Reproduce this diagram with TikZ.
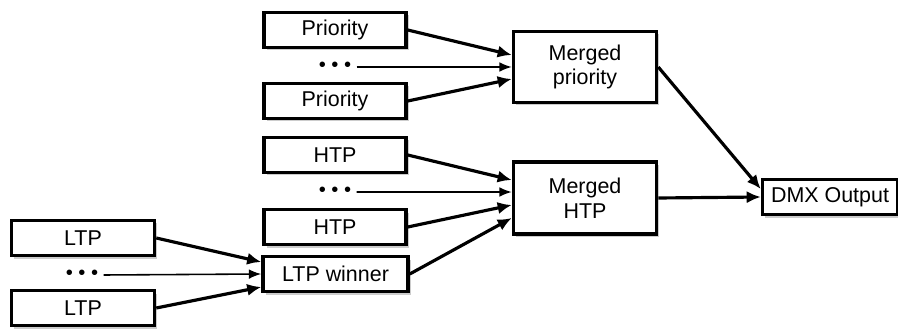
\documentclass[tikz,border=0pt]{standalone}
\usepackage{fontspec}
\setmainfont{Liberation Sans}
\usetikzlibrary{shadows, arrows.meta}
\begin{document}
\begin{tikzpicture}[feed/.style={-{Latex[length=8pt, width=7pt]}, line width=1.8pt}, fine/.style={-{Latex[length=7pt, width=5.5pt]}, line width=0.9pt}]
        \tikzset{bloc/.style={rectangle, draw=black, line width=2pt, fill=white, minimum height=0.7cm, minimum width=2.84cm, inner sep=0pt, align=center, font=\fontsize{12.2}{14}\selectfont, drop shadow={shadow xshift=0.05cm, shadow yshift=-0.06cm, opacity=0.4}}};
        \tikzset{points/.style={inner sep=0.1cm, font=\fontsize{11.5}{13}\selectfont}};
        \useasboundingbox (0, 0) rectangle (17.96, 6.58);

        \node[bloc, minimum width=2.86cm, minimum height=1.42cm] (mp) at (11.70, 5.24) {Merged\\priority};
        \node[bloc, minimum width=2.86cm, minimum height=1.44cm] (mh) at (11.70, 2.62) {Merged\\HTP};
        \node[bloc, minimum width=2.7cm] (dmx) at (16.60, 2.64) {DMX Output};

        \node[bloc] (pr1) at (6.70, 5.98) {Priority};
        \node[points] (pd) at (6.70, 5.24) {\textbullet\ \textbullet\ \textbullet};
        \node[bloc] (pr2) at (6.70, 4.56) {Priority};

        \node[bloc] (ht1) at (6.70, 3.48) {HTP};
        \node[points] (hd) at (6.70, 2.74) {\textbullet\ \textbullet\ \textbullet};
        \node[bloc] (ht2) at (6.70, 2.04) {HTP};
        \node[bloc, minimum width=2.9cm] (lw) at (6.71, 1.10) {LTP winner};

        \node[bloc, minimum width=2.86cm] (lt1) at (1.66, 1.82) {LTP};
        \node[points] (ld) at (1.64, 1.08) {\textbullet\ \textbullet\ \textbullet};
        \node[bloc, minimum width=2.86cm] (lt2) at (1.66, 0.42) {LTP};

        \draw[feed] (pr1.east) -- ([yshift=0.24cm]mp.west);
        \draw[fine] (pd.east) -- (mp.west);
        \draw[feed] (pr2.east) -- ([yshift=-0.24cm]mp.west);

        \draw[feed] (ht1.east) -- ([yshift=0.36cm]mh.west);
        \draw[fine] (hd.east) -- ([yshift=0.12cm]mh.west);
        \draw[feed] (ht2.east) -- ([yshift=-0.14cm]mh.west);
        \draw[feed] (lw.east) -- ([yshift=-0.40cm]mh.west);

        \draw[feed] (lt1.east) -- ([yshift=0.24cm]lw.west);
        \draw[fine] (ld.east) -- (lw.west);
        \draw[feed] (lt2.east) -- ([yshift=-0.26cm]lw.west);

        \draw[feed] (mp.east) -- ([yshift=0.16cm]dmx.west);
        \draw[feed] (mh.east) -- (dmx.west);
    \end{tikzpicture}
\end{document}
